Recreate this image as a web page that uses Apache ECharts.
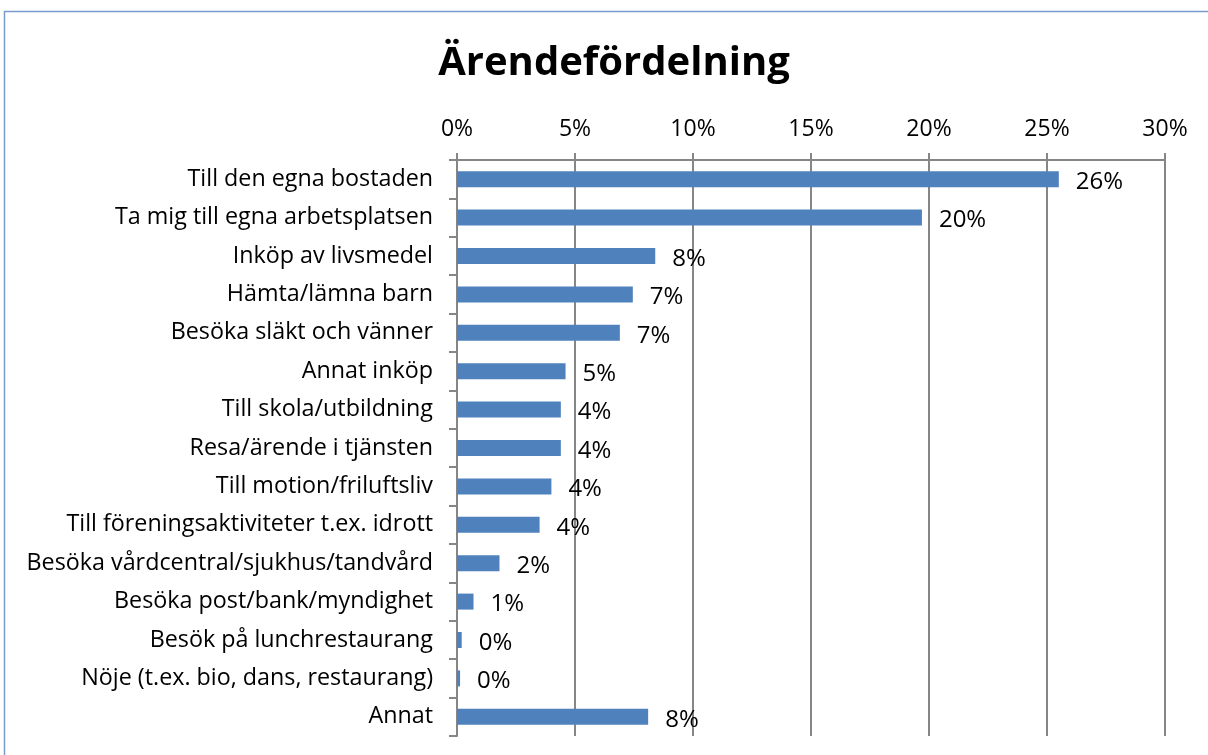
<!DOCTYPE html>
<html>
<head>
<meta charset="utf-8">
<script src="https://cdn.jsdelivr.net/npm/echarts@6/dist/echarts.min.js"></script>
<style>
  html, body { margin: 0; padding: 0; background: #fff; }
  #chart { width: 1208px; height: 755px; }
</style>
</head>
<body>
<div id="chart"></div>
<script>
// kategorier uppifrån och ner
var categories = [
  'Till den egna bostaden',
  'Ta mig till egna arbetsplatsen',
  'Inköp av livsmedel',
  'Hämta/lämna barn',
  'Besöka släkt och vänner',
  'Annat inköp',
  'Till skola/utbildning',
  'Resa/ärende i tjänsten',
  'Till motion/friluftsliv',
  'Till föreningsaktiviteter t.ex. idrott',
  'Besöka vårdcentral/sjukhus/tandvård',
  'Besöka post/bank/myndighet',
  'Besök på lunchrestaurang',
  'Nöje (t.ex. bio, dans, restaurang)',
  'Annat'
]
// andel i procent
var shares = [25.5, 19.7, 8.4, 7.45, 6.9, 4.6, 4.4, 4.4, 4.0, 3.5, 1.8, 0.7, 0.2, 0.13, 8.1]
var xTicks = [0, 5, 10, 15, 20, 25, 30]

var font = '"Open Sans", "Noto Sans", sans-serif'
var gray = '#868686'

var myChart = echarts.init(document.getElementById('chart'))
var option = {
  animation: false,
  graphic: [{
    type: 'rect',
    shape: { x: 4.5, y: 11.5, width: 1220, height: 760 },
    style: { fill: 'none', stroke: '#7a9ccc', lineWidth: 1.5 }
  }],
  title: {
    text: 'Ärendefördelning',
    left: 609, top: 39, textAlign: 'center',
    textStyle: { fontFamily: font, fontWeight: 'bold', fontSize: 40, color: '#000' }
  },
  grid: { left: 457, right: 43, top: 160, bottom: 19, containLabel: false },
  xAxis: {
    type: 'value', position: 'top',
    min: xTicks[0], max: xTicks[xTicks.length - 1], interval: 5,
    axisLine: { show: true, lineStyle: { color: gray, width: 2 } },
    axisTick: { show: true, length: 7, lineStyle: { color: gray, width: 2 } },
    splitLine: { show: true, lineStyle: { color: gray, width: 2 } },
    axisLabel: {
      formatter: function (v) { return v + '%' },
      fontFamily: font, fontSize: 23, color: '#000', margin: 19
    }
  },
  yAxis: {
    type: 'category', inverse: true, data: categories,
    axisLine: { show: true, lineStyle: { color: gray, width: 2 } },
    axisTick: { show: true, length: 8, lineStyle: { color: gray, width: 2 } },
    axisLabel: { fontFamily: font, fontSize: 23.3, color: '#000', margin: 24, padding: [6, 0, 0, 0] }
  },
  series: [{
    type: 'bar',
    data: shares,
    barWidth: 16,
    itemStyle: { color: '#4f81bd' },
    label: {
      show: true, position: 'right', distance: 17,
      fontFamily: font, fontSize: 24, color: '#000', offset: [0, 3],
      formatter: function (p) { return Math.round(p.value) + '%' }
    }
  }]
}
myChart.setOption(option, true)
</script>
</body>
</html>
